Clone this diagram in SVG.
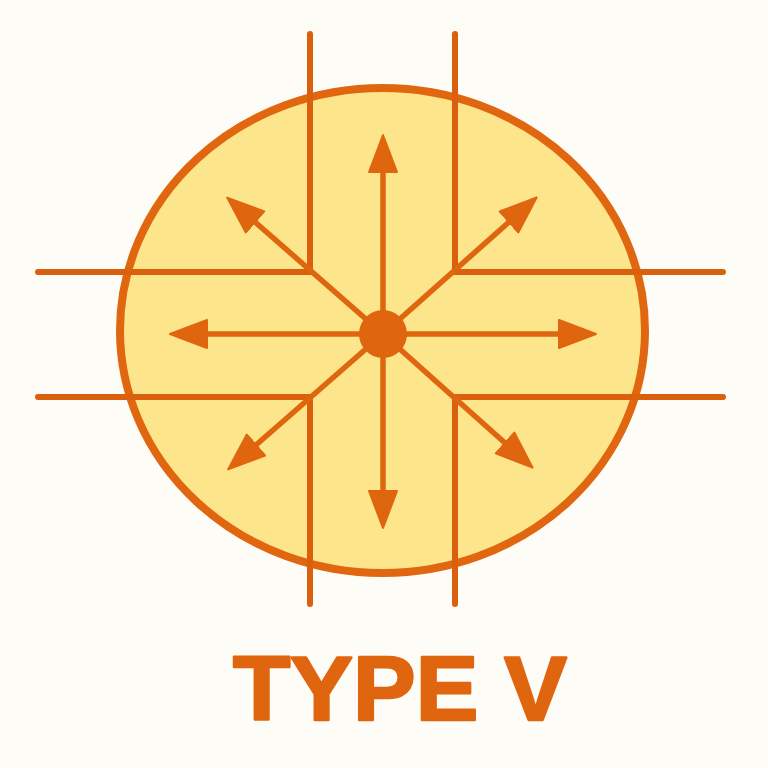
<svg xmlns="http://www.w3.org/2000/svg" width="768" height="768" viewBox="0 0 768 768">
<style>
.grid{stroke:#DA600E;stroke-width:6;stroke-linecap:round;fill:none}
.arrow{stroke:#E0650F;stroke-width:5.5;fill:none}
.label{font-family:"Liberation Sans",Arial,sans-serif;font-weight:bold;font-size:90px;fill:#E0650F;stroke:#E0650F;stroke-width:2.5;stroke-linejoin:round}
</style>
<defs>
<marker id="head" markerUnits="userSpaceOnUse" markerWidth="42" markerHeight="32" refX="1" refY="15" orient="auto">
<path d="M1,1 L38,15 L1,29 Z" fill="#E0650F" stroke="#E0650F" stroke-width="2" stroke-linejoin="round"/>
</marker>
</defs>
<rect width="768" height="768" fill="#FEFCF7"/>
<g id="disc">
<ellipse cx="382.5" cy="330.5" rx="262.5" ry="242.5" fill="#FDE58C" stroke="#E0660F" stroke-width="8"/>
</g>
<g id="grid">
<path class="grid" d="M310,34 V272 H38"/>
<path class="grid" d="M455,34 V272 H723"/>
<path class="grid" d="M310,604 V397 H38"/>
<path class="grid" d="M455,604 V397 H723"/>
</g>
<g id="connectors">
<path class="arrow" d="M383,334 L383,172" marker-end="url(#head)"/>
<path class="arrow" d="M383,334 L383,491" marker-end="url(#head)"/>
<path class="arrow" d="M383,334 L207,334" marker-end="url(#head)"/>
<path class="arrow" d="M383,334 L559,334" marker-end="url(#head)"/>
<path class="arrow" d="M383,334 L255,222" marker-end="url(#head)"/>
<path class="arrow" d="M383,334 L509,222" marker-end="url(#head)"/>
<path class="arrow" d="M383,334 L256,445" marker-end="url(#head)"/>
<path class="arrow" d="M383,334 L505,443" marker-end="url(#head)"/>
</g>
<g id="center">
<circle cx="383" cy="334" r="24" fill="#E0650F"/>
</g>
<text class="label" x="400" y="720" text-anchor="middle" textLength="334" lengthAdjust="spacingAndGlyphs">TYPE V</text>
</svg>
